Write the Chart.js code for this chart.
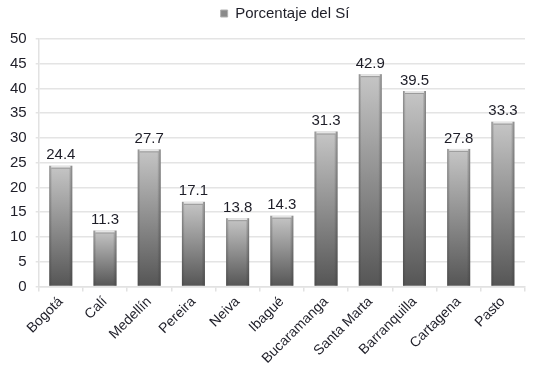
<!DOCTYPE html>
<html>
<head>
<meta charset="utf-8">
<script src="https://cdn.jsdelivr.net/npm/chart.js@4.4.1/dist/chart.umd.min.js"></script>
<style>
  html, body { margin: 0; padding: 0; background: #fff; }
  #wrap { width: 543px; height: 373px; }
</style>
</head>
<body>
<div id="wrap"><canvas id="grafico"></canvas></div>
<script>
// datos del gráfico
const ciudades = ['Bogotá', 'Calí', 'Medellín', 'Pereira', 'Neiva', 'Ibagué',
    'Bucaramanga', 'Santa Marta', 'Barranquilla', 'Cartagena', 'Pasto'];
const porcentajes = [24.4, 11.3, 27.7, 17.1, 13.8, 14.3, 31.3, 42.9, 39.5, 27.8, 33.3];
const ticksY = [0, 5, 10, 15, 20, 25, 30, 35, 40, 45, 50];

const fuente = "'Liberation Sans', Arial, sans-serif";

// degradado vertical por barra (claro arriba, oscuro abajo)
function degradadoBarra(ctx) {
    const chart = ctx.chart;
    if (!chart.chartArea || ctx.type !== 'data') return '#8c8c8c';
    const y = chart.scales.y;
    const top = y.getPixelForValue(ctx.parsed.y);
    const base = y.getPixelForValue(0);
    const g = chart.ctx.createLinearGradient(0, top, 0, base);
    g.addColorStop(0, '#c6c6c6');
    g.addColorStop(0.5, '#8e8e8e');
    g.addColorStop(1, '#555555');
    return g;
}

// espacio extra debajo de la leyenda y leyenda un poco a la derecha
const espacioLeyenda = {
    id: 'espacioLeyenda',
    beforeInit(chart) {
        const fitOriginal = chart.legend.fit;
        chart.legend.fit = function () {
            fitOriginal.call(this);
            this.height += 8;
        };
    },
    afterLayout(chart) {
        chart.legend.left += 22;
        chart.legend.right += 22;
    }
};

// etiquetas de valor y brillo en los bordes
const etiquetas = {
    id: 'etiquetas',
    afterDatasetsDraw(chart) {
        const ctx = chart.ctx;
        const meta = chart.getDatasetMeta(0);
        ctx.save();
        meta.data.forEach((bar, i) => {
            const w = bar.width;
            const left = bar.x - w / 2;
            const h = bar.base - bar.y;
            // sombra lateral
            let side = ctx.createLinearGradient(left, 0, left + w, 0);
            side.addColorStop(0, 'rgba(60,60,60,0.45)');
            side.addColorStop(0.12, 'rgba(60,60,60,0)');
            side.addColorStop(0.85, 'rgba(60,60,60,0)');
            side.addColorStop(1, 'rgba(60,60,60,0.5)');
            ctx.fillStyle = side;
            ctx.fillRect(left, bar.y, w, h);
            // tapa superior
            ctx.fillStyle = '#e4e4e4';
            ctx.fillRect(left + 2, bar.y, w - 4, 2);
            ctx.fillStyle = '#9a9a9a';
            ctx.fillRect(left + 2, bar.y + 2, w - 4, 1);
            // valor
            ctx.fillStyle = '#1e1e28';
            ctx.font = '15px ' + fuente;
            ctx.textAlign = 'center';
            ctx.textBaseline = 'bottom';
            ctx.fillText(porcentajes[i].toFixed(1), bar.x, bar.y - 3);
        });
        ctx.restore();
    }
};

const config = {
    type: 'bar',
    data: {
        labels: ciudades,
        datasets: [{
            label: 'Porcentaje del Sí',
            data: porcentajes,
            backgroundColor: degradadoBarra,
            borderWidth: 0,
            barPercentage: 0.52,
            categoryPercentage: 1
        }]
    },
    options: {
        responsive: true,
        maintainAspectRatio: false,
        animation: false,
        layout: { padding: { left: 1, right: 18, top: 0, bottom: 4 } },
        plugins: {
            legend: {
                display: true,
                labels: {
                    boxWidth: 7,
                    boxHeight: 7,
                    padding: 6,
                    color: '#1e1e28',
                    font: { family: fuente, size: 15 },
                    generateLabels: () => [{
                        text: 'Porcentaje del Sí',
                        fillStyle: '#8a8a8a',
                        strokeStyle: '#b0b0b0',
                        lineWidth: 1,
                        fontColor: '#1e1e28'
                    }]
                }
            },
            tooltip: { enabled: false }
        },
        scales: {
            x: {
                grid: {
                    display: true,
                    offset: true,
                    drawOnChartArea: false,
                    drawTicks: true,
                    tickLength: 5,
                    color: '#e2e2e2',
                    lineWidth: 1.5
                },
                border: { color: '#e2e2e2', width: 1.5 },
                ticks: {
                    maxRotation: 45,
                    minRotation: 45,
                    padding: 2,
                    color: '#1e1e28',
                    font: { family: fuente, size: 14 }
                }
            },
            y: {
                min: 0,
                max: 50,
                afterBuildTicks: (axis) => {
                    axis.ticks = ticksY.map(v => ({ value: v }));
                },
                grid: {
                    color: '#e4e4e4',
                    lineWidth: 1.5,
                    tickLength: 3
                },
                border: { color: '#e2e2e2', width: 1.5 },
                ticks: {
                    padding: 9,
                    color: '#1e1e28',
                    font: { family: fuente, size: 15 }
                }
            }
        }
    },
    plugins: [espacioLeyenda, etiquetas]
};

document.addEventListener('DOMContentLoaded', function () {
    const ctx = document.getElementById('grafico').getContext('2d');
    new Chart(ctx, config);
});
</script>
</body>
</html>
